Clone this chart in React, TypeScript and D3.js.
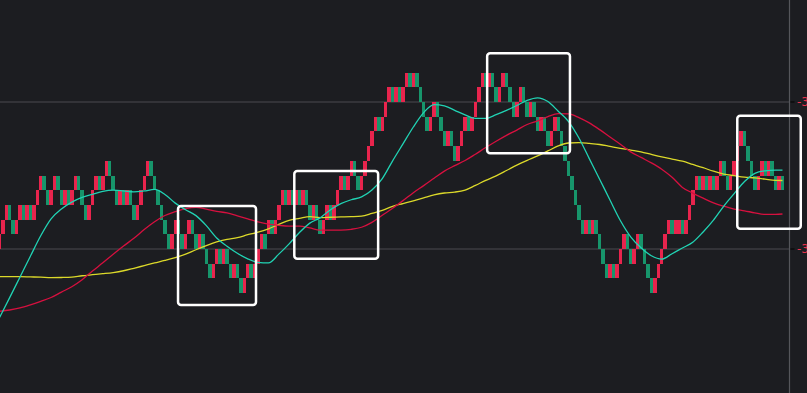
import React from 'react';
import * as d3 from 'd3';

// brick body bottom level (in brick units, 0 = lower grid line) and direction (1 = up/red, 0 = down/green)
const brickLevel = [
  0, 1, 2, 2, 1, 1, 2, 2, 2, 2,
  2, 3, 4, 4, 3, 3, 4, 4, 3, 3,
  3, 3, 4, 4, 3, 2, 2, 3, 4, 4,
  4, 5, 5, 4, 3, 3, 3, 3, 3, 2,
  2, 3, 4, 5, 5, 4, 3, 2, 1, 0,
  0, 1, 1, 0, 0, 1, 1, 0, 0, 0,
  -1, -2, -2, -1, -1, -1, -1, -2, -2, -2,
  -3, -3, -2, -2, -2, -1, 0, 0, 1, 1,
  1, 2, 3, 3, 3, 3, 3, 3, 3, 3,
  2, 2, 2, 1, 1, 2, 2, 2, 3, 4,
  4, 4, 5, 5, 4, 4, 5, 6, 7, 8,
  8, 8, 9, 10, 10, 10, 10, 10, 11, 11,
  11, 11, 10, 9, 8, 8, 9, 9, 8, 7,
  7, 7, 6, 6, 7, 8, 8, 8, 9, 10,
  11, 11, 11, 11, 10, 10, 11, 11, 10, 9,
  9, 10, 10, 9, 9, 9, 8, 8, 8, 7,
  7, 8, 8, 7, 6, 5, 4, 3, 2, 1,
  1, 1, 1, 1, 0, -1, -2, -2, -2, -2,
  -1, 0, 0, -1, -1, 0, 0, -1, -2, -3,
  -3, -2, -1, 0, 1, 1, 1, 1, 1, 1,
  2, 3, 4, 4, 4, 4, 4, 4, 4, 5,
  5, 4, 4, 5, 6, 7, 7, 6, 5, 4,
  4, 5, 5, 5, 5, 4, 4, 4,
];
const brickUp = [
  1, 1, 1, 0, 0, 1, 1, 0, 1, 0,
  1, 1, 1, 0, 0, 1, 1, 0, 0, 1,
  0, 1, 1, 0, 0, 0, 1, 1, 1, 0,
  1, 1, 0, 0, 0, 1, 0, 1, 0, 0,
  1, 1, 1, 1, 0, 0, 0, 0, 0, 0,
  1, 1, 0, 0, 1, 1, 0, 0, 1, 0,
  0, 0, 1, 1, 0, 1, 0, 0, 1, 0,
  0, 1, 1, 0, 1, 1, 1, 0, 1, 0,
  1, 1, 1, 0, 1, 0, 1, 0, 1, 0,
  0, 1, 0, 0, 1, 1, 0, 1, 1, 1,
  0, 1, 1, 0, 0, 1, 1, 1, 1, 1,
  0, 1, 1, 1, 0, 1, 0, 1, 1, 0,
  1, 0, 0, 0, 0, 1, 1, 0, 0, 0,
  1, 0, 0, 1, 1, 1, 0, 1, 1, 1,
  1, 0, 1, 0, 0, 1, 1, 0, 0, 0,
  1, 1, 0, 0, 1, 0, 0, 1, 0, 0,
  1, 1, 0, 0, 0, 0, 0, 0, 0, 0,
  1, 0, 1, 0, 0, 0, 0, 1, 0, 1,
  1, 1, 0, 0, 1, 1, 0, 0, 0, 0,
  1, 1, 1, 1, 1, 0, 1, 1, 0, 1,
  1, 1, 1, 0, 1, 0, 1, 0, 1, 1,
  0, 0, 1, 1, 1, 1, 0, 0, 0, 0,
  1, 1, 0, 1, 0, 0, 1, 0,
];

// moving averages sampled every 3 bricks (last sample = last brick)
const maFast = [
  -4.69, -3.31, -1.9, -0.49, 0.9, 2.05, 2.72, 3.19, 3.51, 3.72,
  3.92, 4.0, 3.95, 3.89, 3.95, 4.05, 3.71, 3.12, 2.67, 2.27,
  1.59, 0.75, 0.19, -0.29, -0.67, -0.91, -0.95, -0.35, 0.35, 1.12,
  1.76, 2.12, 2.67, 3.09, 3.35, 3.54, 4.01, 4.79, 6.0, 7.15,
  8.3, 9.28, 9.82, 9.74, 9.43, 9.12, 8.88, 8.88, 9.14, 9.43,
  9.76, 10.11, 10.28, 10.03, 9.37, 8.67, 7.55, 6.15, 4.75, 3.33,
  1.94, 0.83, 0.08, -0.46, -0.69, -0.32, 0.07, 0.46, 1.16, 1.96,
  2.92, 3.77, 4.59, 5.15, 5.32, 5.37, 5.37,
];
const maMid = [
  -4.24, -4.15, -4.01, -3.8, -3.56, -3.3, -2.93, -2.57, -2.09, -1.5,
  -0.94, -0.36, 0.2, 0.73, 1.32, 1.85, 2.28, 2.54, 2.75, 2.84,
  2.71, 2.56, 2.46, 2.26, 2.05, 1.84, 1.69, 1.61, 1.56, 1.56,
  1.43, 1.29, 1.29, 1.29, 1.34, 1.48, 1.81, 2.29, 2.77, 3.29,
  3.83, 4.31, 4.81, 5.3, 5.67, 6.02, 6.45, 6.9, 7.33, 7.73,
  8.09, 8.47, 8.71, 9.0, 9.21, 9.19, 8.94, 8.58, 8.12, 7.62,
  7.13, 6.61, 6.23, 5.86, 5.43, 4.88, 4.19, 3.8, 3.46, 3.14,
  2.91, 2.72, 2.6, 2.46, 2.35, 2.35, 2.38,
];
const maSlow = [
  -1.88, -1.88, -1.88, -1.9, -1.92, -1.95, -1.94, -1.91, -1.82, -1.75,
  -1.68, -1.6, -1.48, -1.31, -1.13, -0.95, -0.78, -0.59, -0.35, -0.05,
  0.23, 0.48, 0.65, 0.77, 0.97, 1.14, 1.37, 1.67, 1.95, 2.08,
  2.2, 2.14, 2.16, 2.18, 2.2, 2.24, 2.42, 2.62, 2.9, 3.09,
  3.28, 3.48, 3.68, 3.81, 3.87, 4.01, 4.33, 4.67, 4.98, 5.34,
  5.71, 6.03, 6.33, 6.67, 7.01, 7.21, 7.23, 7.18, 7.11, 6.98,
  6.85, 6.73, 6.61, 6.43, 6.26, 6.12, 5.97, 5.75, 5.53, 5.29,
  5.1, 4.99, 4.89, 4.84, 4.75, 4.67, 4.66,
];

const gridValues = [0, 10];
const axisLabels = ['-3.100', '-3.050'];

// highlight boxes: [first brick, last brick, top value, bottom value]
const boxFrom = [52.3, 86.0, 141.9, 214.4];
const boxTo = [74.9, 110.3, 165.9, 232.8];
const boxTop = [2.93, 5.31, 13.31, 9.07];
const boxBottom = [-3.81, -0.66, 6.51, 1.38];

const W = 807;
const H = 393;
const AXIS_X = 789.5;

const COLORS = {
  bg: '#1c1d21',
  up: '#e8244d',
  down: '#17956b',
  fast: '#21d3b4',
  mid: '#d6103f',
  slow: '#dcd92a',
  grid: '#4a4b50',
  axis: '#55565b',
  label: '#e8304a',
};

export default function App() {
  const n = brickLevel.length;
  const x = d3.scaleLinear().domain([0, n]).range([-2.4, 784.2]);
  const y = d3.scaleLinear().domain([0, 10]).range([249, 102]);
  const bw = x(1) - x(0);

  const maCols = d3.range(0, n - 2, 3).concat([n - 1]);
  const line = d3
    .line<number>()
    .x((_, i) => x(maCols[i]) + bw / 2)
    .y((v) => y(v))
    .curve(d3.curveMonotoneX);

  return (
    <svg
      width={W}
      height={H}
      style={{ position: 'absolute', left: 0, top: 0, display: 'block', background: COLORS.bg }}
    >
      <rect x={0} y={0} width={W} height={H} fill={COLORS.bg} />
      {gridValues.map((g) => (
        <line key={'g' + g} x1={0} x2={AXIS_X} y1={y(g)} y2={y(g)} stroke={COLORS.grid} strokeWidth={1} />
      ))}
      <line x1={AXIS_X} x2={AXIS_X} y1={0} y2={H} stroke={COLORS.axis} strokeWidth={1.2} />
      {gridValues.map((g, i) => (
        <g key={'t' + g}>
          <line x1={AXIS_X + 1} x2={AXIS_X + 5} y1={y(g)} y2={y(g)} stroke="#0b0b0d" strokeWidth={1.5} />
          <text
            x={AXIS_X + 7.5}
            y={y(g)}
            dy="0.35em"
            fill={COLORS.label}
            fontSize={12}
            fontFamily="'DejaVu Sans', sans-serif"
          >
            {axisLabels[i]}
          </text>
        </g>
      ))}
      <g shapeRendering="crispEdges">
        {brickLevel.map((lv, k) => (
          <rect
            key={k}
            x={x(k)}
            width={bw}
            y={y(lv + 1)}
            height={y(lv) - y(lv + 1)}
            fill={brickUp[k] ? COLORS.up : COLORS.down}
          />
        ))}
      </g>
      <path d={line(maSlow) || ''} fill="none" stroke={COLORS.slow} strokeWidth={1.3} />
      <path d={line(maMid) || ''} fill="none" stroke={COLORS.mid} strokeWidth={1.3} />
      <path d={line(maFast) || ''} fill="none" stroke={COLORS.fast} strokeWidth={1.3} />
      {boxFrom.map((b, i) => (
        <rect
          key={'b' + i}
          x={x(b)}
          y={y(boxTop[i])}
          width={x(boxTo[i]) - x(b)}
          height={y(boxBottom[i]) - y(boxTop[i])}
          rx={3}
          fill="none"
          stroke="#ffffff"
          strokeWidth={2.5}
        />
      ))}
    </svg>
  );
}
